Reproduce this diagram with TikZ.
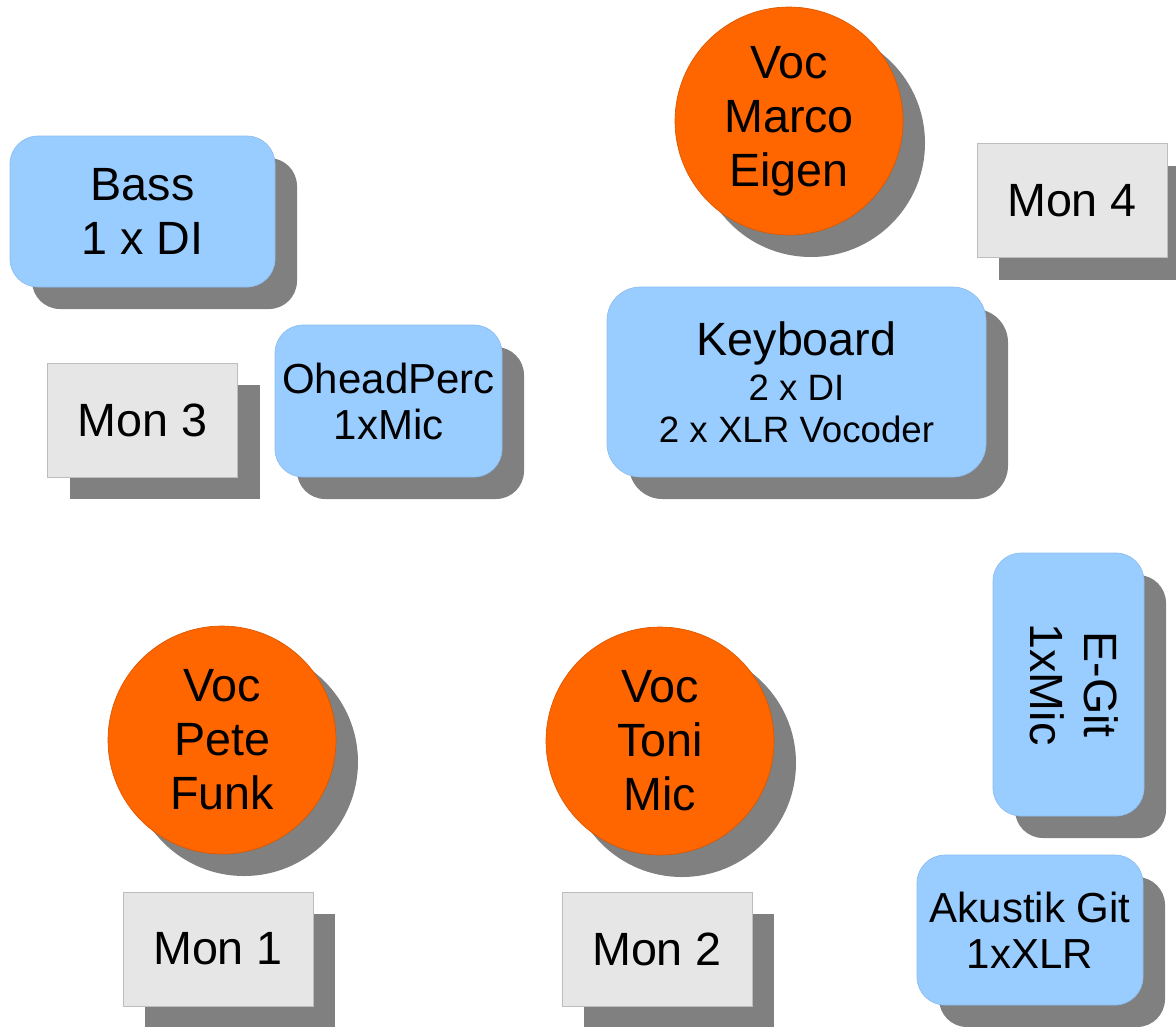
\documentclass[tikz,border=0pt]{standalone}
\usepackage{fontspec}
\setmainfont{Liberation Sans}
\usepackage{graphicx}
\usetikzlibrary{shadows}

\definecolor{stageblue}{HTML}{99CCFF}
\definecolor{blueedge}{HTML}{8CBDEE}
\definecolor{vocorange}{HTML}{FF6600}
\definecolor{orangeedge}{HTML}{D95800}
\definecolor{monfill}{HTML}{E6E6E6}
\definecolor{monedge}{HTML}{BDBDBD}
\definecolor{shadowgrey}{HTML}{808080}

\newcommand{\bigtext}{\fontsize{35}{40.5}\selectfont}
\newcommand{\midtext}{\fontsize{31.5}{34.5}\selectfont}
\newcommand{\smalltext}{\fontsize{27.5}{31.5}\selectfont}

\tikzset{every picture/.style={line width=0.75pt}}
\tikzset{
  grey shadow/.style={drop shadow={shadow xshift=16.5pt,shadow yshift=-16.5pt,fill=shadowgrey,opacity=1}},
  instr/.style={rectangle,grey shadow,rounded corners=21pt,fill=stageblue,draw=blueedge,line width=0.5pt,inner sep=0pt,align=center},
  voc/.style={circle,grey shadow,fill=vocorange,draw=orangeedge,line width=0.5pt,minimum size=171pt,inner sep=0pt,align=center,font=\bigtext},
  mon/.style={rectangle,grey shadow,fill=monfill,draw=monedge,line width=0.5pt,minimum width=142.5pt,minimum height=85.5pt,inner sep=0pt,font=\bigtext}
}

\begin{document}
\begin{tikzpicture}[x=0.75pt,y=0.75pt,yscale=-1,xscale=1]
\useasboundingbox (0,0) rectangle (1176,1026);

%Instruments
\node [instr,minimum width=198.75pt,minimum height=113.25pt,font=\bigtext] (bass) at (142.5,211.5) {Bass\\1 x DI};
\node [instr,minimum width=170.25pt,minimum height=114pt,font=\midtext] (ohead) at (388.5,401) {OheadPerc\\1xMic};
\node [instr,rounded corners=25pt,minimum width=284.25pt,minimum height=142.5pt,font=\bigtext] (keys) at (796.5,382) {Keyboard\\[-6.75pt]\smalltext 2 x DI\\[-9pt]\smalltext 2 x XLR Vocoder};
\node [instr,minimum width=113.25pt,minimum height=197.25pt,font=\bigtext] (egit) at (1068.5,684.5) {\rotatebox{-90}{\begin{tabular}{@{}c@{}}E-Git\\1xMic\end{tabular}}};
\node [instr,minimum width=169.5pt,minimum height=112.5pt,font=\midtext] (akgit) at (1030,930) {Akustik Git\\1xXLR};

%Vocals
\node [voc] (marco) at (789,121) {Voc\\Marco\\Eigen};
\node [voc] (pete) at (222,740) {Voc\\Pete\\Funk};
\node [voc] (toni) at (660,741) {Voc\\Toni\\Mic};

%Monitors
\node [mon] (mon1) at (218,949) {Mon 1};
\node [mon] (mon2) at (657,949) {Mon 2};
\node [mon] (mon3) at (142.5,420) {Mon 3};
\node [mon] (mon4) at (1072,200.5) {Mon 4};

\end{tikzpicture}
\end{document}
